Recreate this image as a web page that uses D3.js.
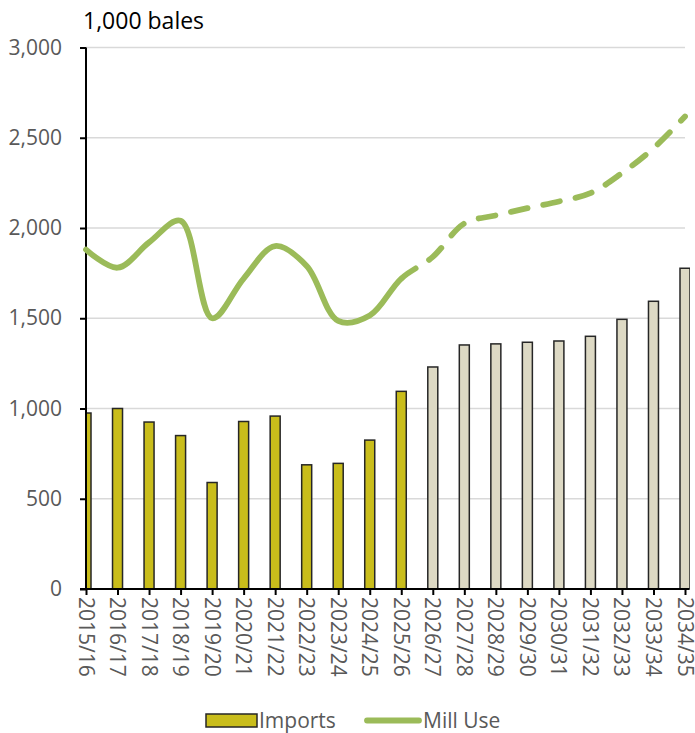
<!DOCTYPE html>
<html>
<head>
<meta charset="utf-8">
<script src="https://cdn.jsdelivr.net/npm/d3@7"></script>
<style>
  html, body { margin: 0; padding: 0; background: #fff; }
  svg { display: block; font-family: "Carlito", "Calibri", "Open Sans", sans-serif; }
</style>
</head>
<body>
<svg id="chart" width="695" height="733"></svg>
<script>
// ---- data ----
const categories = ["2015/16","2016/17","2017/18","2018/19","2019/20","2020/21","2021/22","2022/23","2023/24","2024/25",
                    "2025/26","2026/27","2027/28","2028/29","2029/30","2030/31","2031/32","2032/33","2033/34","2034/35"];
const imports = [975, 1000, 925, 850, 590, 928, 958, 688, 696, 825,
                 1095, 1230, 1352, 1358, 1367, 1374, 1400, 1494, 1594, 1777];
const millUse = [1880, 1780, 1920, 2040, 1500, 1720, 1900, 1790, 1485, 1515,
                 1720, 1840, 2025, 2070, 2110, 2147, 2193, 2304, 2442, 2618];
const yTicks = [0, 500, 1000, 1500, 2000, 2500, 3000];
const firstProjectedBar = "2026/27";
const firstDashedPoint = "2025/26";
const unitLabel = "1,000 bales";
const legendLabels = ["Imports", "Mill Use"];

// ---- styles ----
const colHist = "#C9BD1B", colProj = "#DDD9C4", colLine = "#9BBB59";
const textCol = "#595959";

const svg = d3.select("#chart");
const pLeft = 86, pRight = 685, pTop = 47.5, pBottom = 589;

const x = d3.scalePoint().domain(categories).range([pLeft, pRight]);
const y = d3.scaleLinear().domain([0, 3000]).range([pBottom, pTop]);

// clip
svg.append("clipPath").attr("id", "plotClip")
  .append("rect").attr("x", pLeft).attr("y", 0).attr("width", 690 - pLeft).attr("height", pBottom + 1);

// gridlines
svg.append("g").selectAll("line").data(yTicks.filter(d => d > 0)).join("line")
  .attr("x1", pLeft).attr("x2", pRight)
  .attr("y1", d => y(d)).attr("y2", d => y(d))
  .attr("stroke", "#D9D9D9").attr("stroke-width", 1.5);

// bars
const barW = 10;
const projIdx = categories.indexOf(firstProjectedBar);
svg.append("g").attr("clip-path", "url(#plotClip)")
  .selectAll("rect").data(imports).join("rect")
  .attr("x", (d, i) => x(categories[i]) - barW / 2)
  .attr("width", barW)
  .attr("y", d => y(d))
  .attr("height", d => y(0) - y(d))
  .attr("fill", (d, i) => i >= projIdx ? colProj : colHist)
  .attr("stroke", "#262626").attr("stroke-width", 1.5);

// y axis
const yAxis = d3.axisLeft(y).tickValues(yTicks).tickSize(6).tickPadding(18)
  .tickFormat(d3.format(","));
const gy = svg.append("g").attr("transform", `translate(${pLeft},0)`).call(yAxis);
gy.select(".domain").attr("stroke", "#000").attr("stroke-width", 2).attr("d", `M0,${pTop}V${pBottom}`);
gy.selectAll(".tick line").attr("stroke", "#000").attr("stroke-width", 2);
gy.selectAll(".tick text").attr("fill", textCol).style("font-size", "21px")
  .style("font-family", "'Open Sans', sans-serif");

// x axis
const xAxis = d3.axisBottom(x).tickSize(6).tickPadding(0);
const gx = svg.append("g").attr("transform", `translate(0,${pBottom})`).call(xAxis);
gx.select(".domain").attr("stroke", "#000").attr("stroke-width", 2).attr("d", `M${pLeft - 6},0H${pRight + 4}`);
gx.selectAll(".tick line").attr("stroke", "#000").attr("stroke-width", 2);
gx.selectAll(".tick text")
  .attr("fill", textCol).style("font-size", "21px").style("font-family", "'Open Sans', sans-serif")
  .attr("text-anchor", "start").attr("dy", null).attr("y", 0)
  .attr("dominant-baseline", "central")
  .attr("transform", "translate(0,8) rotate(90)");

// line
const pts = millUse.map((v, i) => [x(categories[i]), y(v)]);
const lineGen = d3.line().curve(d3.curveCatmullRom.alpha(0.5));
const dPath = lineGen(pts);
const splitIdx = categories.indexOf(firstDashedPoint);
const splitX = x(categories[splitIdx]);

const tmp = svg.append("path").attr("d", dPath).attr("fill", "none");
const total = tmp.node().getTotalLength();
let lo = 0, hi = total;
for (let k = 0; k < 40; k++) {
  const mid = (lo + hi) / 2;
  if (tmp.node().getPointAtLength(mid).x < splitX) lo = mid; else hi = mid;
}
const L0 = lo;
tmp.remove();

svg.append("clipPath").attr("id", "lineClip")
  .append("rect").attr("x", splitX).attr("y", 0).attr("width", 695 - splitX).attr("height", 733);

svg.append("path").attr("d", dPath).attr("fill", "none")
  .attr("stroke", colLine).attr("stroke-width", 5.8).attr("stroke-linecap", "round")
  .attr("stroke-linejoin", "round")
  .attr("stroke-dasharray", `${L0} ${total + 10}`);

svg.append("path").attr("d", dPath).attr("fill", "none")
  .attr("stroke", colLine).attr("stroke-width", 5.8).attr("stroke-linecap", "round")
  .attr("stroke-dasharray", "17 16").attr("stroke-dashoffset", -L0)
  .attr("clip-path", "url(#lineClip)");

// unit label
svg.append("text").attr("x", 83).attr("y", 29).text(unitLabel)
  .attr("fill", "#000").style("font-size", "23px").style("font-family", "'Open Sans', sans-serif");

// legend
const lg = svg.append("g").style("font-family", "'Open Sans', sans-serif").style("font-size", "21px");
lg.append("rect").attr("x", 206).attr("y", 714).attr("width", 51).attr("height", 13)
  .attr("fill", colHist).attr("stroke", "#262626").attr("stroke-width", 1.5);
lg.append("text").attr("x", 259).attr("y", 727.5).attr("fill", textCol).text(legendLabels[0]);
lg.append("line").attr("x1", 367).attr("x2", 419).attr("y1", 720.5).attr("y2", 720.5)
  .attr("stroke", colLine).attr("stroke-width", 5.8).attr("stroke-linecap", "round");
lg.append("text").attr("x", 423).attr("y", 727.5).attr("fill", textCol).text(legendLabels[1]);
</script>
</body>
</html>
